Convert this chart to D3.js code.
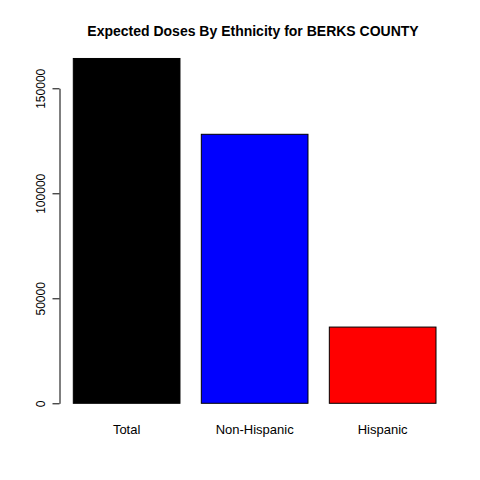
<!DOCTYPE html>
<html>
<head>
<meta charset="utf-8">
<script src="https://cdn.jsdelivr.net/npm/d3@7"></script>
<style>
  html, body { margin: 0; padding: 0; background: #fff; }
  svg { display: block; }
</style>
</head>
<body>
<svg id="chart" width="480" height="480"></svg>
<script>
const categories = ["Total", "Non-Hispanic", "Hispanic"];
const doses = [164200, 128100, 36300];
const barColors = ["#000000", "#0000ff", "#ff0000"];
const yTicks = [0, 50000, 100000, 150000];
const title = "Expected Doses By Ethnicity for BERKS COUNTY";

const svg = d3.select("#chart");
const font = "'Liberation Sans', Arial, Helvetica, sans-serif";

const x = d3.scaleBand()
  .domain(categories)
  .range([73.3, 436])
  .paddingInner(1 / 6)
  .paddingOuter(0);

const y = d3.scaleLinear()
  .domain([0, 150000])
  .range([403.3, 88.3]);

svg.append("g")
  .selectAll("rect")
  .data(categories)
  .join("rect")
  .attr("x", d => x(d))
  .attr("width", x.bandwidth())
  .attr("y", (d, i) => y(doses[i]))
  .attr("height", (d, i) => y(0) - y(doses[i]))
  .attr("fill", (d, i) => barColors[i])
  .attr("stroke", "#000")
  .attr("stroke-width", 1);

const yAxis = svg.append("g")
  .attr("transform", "translate(59.5,0)")
  .call(d3.axisLeft(y).tickValues(yTicks).tickSize(7).tickSizeOuter(0).tickFormat(d => String(d)));
yAxis.select(".domain").attr("stroke", "#000");
yAxis.selectAll(".tick line").attr("stroke", "#000");
yAxis.selectAll(".tick text")
  .attr("transform", "rotate(-90)")
  .attr("x", 0)
  .attr("y", -15)
  .attr("dy", 0)
  .attr("text-anchor", "middle")
  .attr("font-family", font)
  .attr("font-size", 12)
  .attr("fill", "#000");

svg.append("g")
  .selectAll("text")
  .data(categories)
  .join("text")
  .attr("x", d => x(d) + x.bandwidth() / 2)
  .attr("y", 434)
  .attr("text-anchor", "middle")
  .attr("font-family", font)
  .attr("font-size", 13)
  .attr("fill", "#000")
  .text(d => d);

svg.append("text")
  .attr("x", 253)
  .attr("y", 36)
  .attr("text-anchor", "middle")
  .attr("font-family", font)
  .attr("font-weight", "bold")
  .attr("font-size", 14)
  .attr("fill", "#000")
  .text(title);
</script>
</body>
</html>
